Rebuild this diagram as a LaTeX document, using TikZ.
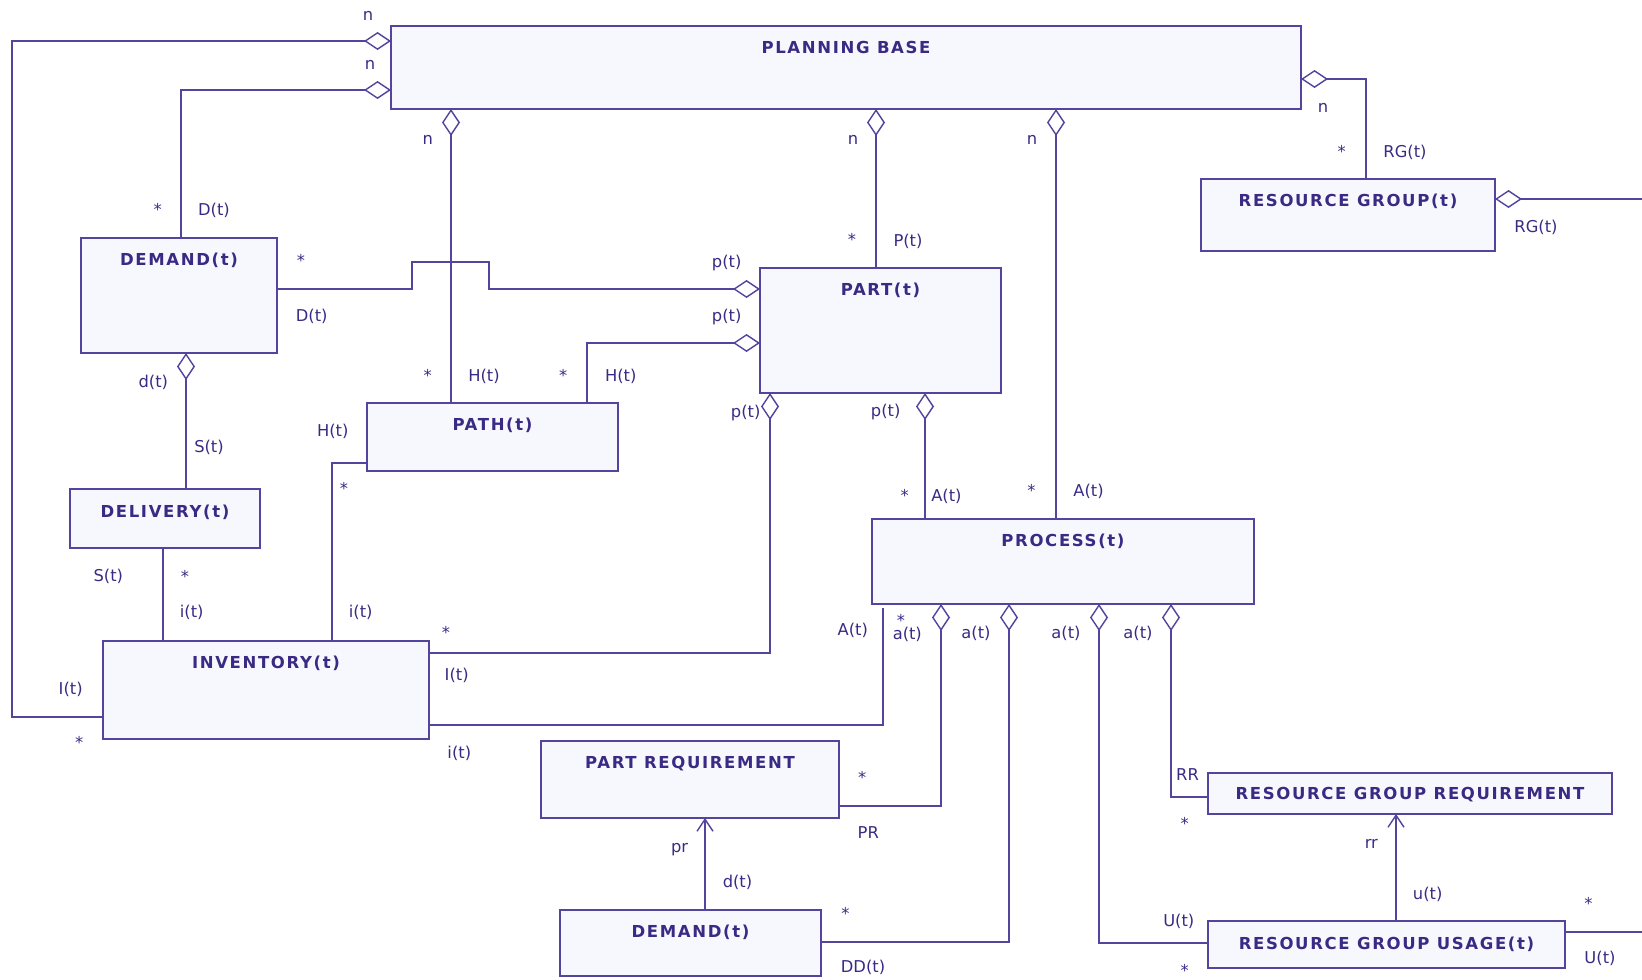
\documentclass[tikz,border=0pt]{standalone}
\usepackage{fontspec}
\setmainfont{DejaVu Sans}
\newfontfamily\titlefont[LetterSpace=10]{DejaVu Sans}
\usetikzlibrary{arrows.meta}
\definecolor{umlline}{HTML}{54449E}
\definecolor{umltext}{HTML}{3B2A84}
\definecolor{umlfill}{HTML}{F7F8FE}

\begin{document}
\begin{tikzpicture}[x=1pt,y=-1pt,
  cls/.style={draw=umlline, line width=2pt, fill=umlfill, anchor=north west,
              inner sep=0pt, outer sep=0pt},
  ttl/.style={font=\titlefont\bfseries\fontsize{16.5pt}{19pt}\selectfont,
              text=umltext, anchor=base, inner sep=0pt},
  lbl/.style={font=\fontsize{16.3pt}{19pt}\selectfont, text=umltext,
              inner sep=0pt, text height=12pt, text depth=3pt},
  mult/.style={lbl, yshift=-5pt},
  conn/.style={draw=umlline, line width=2pt},
  agg/.style={conn, {Diamond[open, length=27pt, width=18pt, line width=1.4pt]}-},
  nav/.style={conn, -{Straight Barb[length=12pt, width=16pt, line width=1.4pt]}},
]
\useasboundingbox (0,0) rectangle (1642,980);
\fill[white] (0,0) rectangle (1642,980);

% ---------- classes ----------
\node[cls, minimum width=910pt, minimum height=83pt]  (PB)   at (391,26) {};
\node[cls, minimum width=294pt, minimum height=72pt]  (RG)   at (1201,179) {};
\node[cls, minimum width=196pt, minimum height=115pt] (DEM)  at (81,238) {};
\node[cls, minimum width=241pt, minimum height=125pt] (PART) at (760,268) {};
\node[cls, minimum width=251pt, minimum height=68pt]  (PATH) at (367,403) {};
\node[cls, minimum width=190pt, minimum height=59pt]  (DEL)  at (70,489) {};
\node[cls, minimum width=326pt, minimum height=98pt]  (INV)  at (103,641) {};
\node[cls, minimum width=382pt, minimum height=85pt]  (PROC) at (872,519) {};
\node[cls, minimum width=298pt, minimum height=77pt]  (PR)   at (541,741) {};
\node[cls, minimum width=261pt, minimum height=66pt]  (DEMB) at (560,910) {};
\node[cls, minimum width=404pt, minimum height=41pt]  (RGR)  at (1208,773) {};
\node[cls, minimum width=357pt, minimum height=47pt]  (RGU)  at (1208,921) {};

\node[ttl] (PB-t)   at ([yshift=-27pt]PB.north)   {PLANNING BASE};
\node[ttl] (RG-t)   at ([yshift=-27pt]RG.north)   {RESOURCE GROUP(t)};
\node[ttl] (DEM-t)  at ([yshift=-27pt]DEM.north)  {DEMAND(t)};
\node[ttl] (PART-t) at ([yshift=-27pt]PART.north) {PART(t)};
\node[ttl] (PATH-t) at ([yshift=-27pt]PATH.north) {PATH(t)};
\node[ttl] (DEL-t)  at ([yshift=-28pt]DEL.north)  {DELIVERY(t)};
\node[ttl] (INV-t)  at ([yshift=-27pt]INV.north)  {INVENTORY(t)};
\node[ttl] (PROC-t) at ([yshift=-27pt]PROC.north) {PROCESS(t)};
\node[ttl] (PR-t)   at ([yshift=-27pt]PR.north)   {PART REQUIREMENT};
\node[ttl] (DEMB-t) at ([yshift=-27pt]DEMB.north) {DEMAND(t)};
\node[ttl] (RGR-t)  at ([yshift=-26pt]RGR.north)  {RESOURCE GROUP REQUIREMENT};
\node[ttl] (RGU-t)  at ([yshift=-28pt]RGU.north)  {RESOURCE GROUP USAGE(t)};

% ---------- free ends ----------
\coordinate (rgout)   at (1642,199);
\coordinate (rguout)  at (1642,932);
\coordinate (procgap) at ([yshift=-4pt]PROC.south);

% ---------- associations ----------
\draw[agg] (PB.west |- 0,41) -- (12,41) -- (12,717) -- (INV.west |- 0,717);
\draw[agg] (PB.west |- 0,90) -- (181,90) -- (DEM.north -| 181,0);
\draw[agg] (PB.south -| 451,0) -- (PATH.north -| 451,0);
\draw[agg] (PB.south -| 876,0) -- (PART.north -| 876,0);
\draw[agg] (PB.south -| 1056,0) -- (PROC.north -| 1056,0);
\draw[agg] (PB.east |- 0,79) -- (1366,79) -- (RG.north -| 1366,0);
\draw[agg] (RG.east |- 0,199) -- (rgout);
\draw[agg] (PART.west |- 0,289) -- (489,289) -- (489,262) -- (412,262)
           -- (412,289) -- (DEM.east |- 0,289);
\draw[agg] (PART.west |- 0,343) -- (587,343) -- (PATH.north -| 587,0);
\draw[agg] (PART.south -| 770,0) -- (770,653) -- (INV.east |- 0,653);
\draw[agg] (PART.south -| 925,0) -- (PROC.north -| 925,0);
\draw[agg] (DEM.south -| 186,0) -- (DEL.north -| 186,0);
\draw[conn] (DEL.south -| 163,0) -- (INV.north -| 163,0);
\draw[conn] (PATH.west |- 0,463) -- (332,463) -- (INV.north -| 332,0);
\draw[conn] (INV.east |- 0,725) -- (883,725) -- (procgap -| 883,0);
\draw[agg] (PROC.south -| 941,0) -- (941,806) -- (PR.east |- 0,806);
\draw[agg] (PROC.south -| 1009,0) -- (1009,942) -- (DEMB.east |- 0,942);
\draw[agg] (PROC.south -| 1099,0) -- (1099,943) -- (RGU.west |- 0,943);
\draw[agg] (PROC.south -| 1171,0) -- (1171,797) -- (RGR.west |- 0,797);
\draw[nav] (DEMB.north -| 705,0) -- (PR.south -| 705,0);
\draw[nav] (RGU.north -| 1396,0) -- (RGR.south -| 1396,0);
\draw[conn] (RGU.east |- 0,932) -- (rguout);

% ---------- role names and multiplicities ----------
\node[lbl]  at (368,15.7)    {n};
\node[lbl]  at (370,65)      {n};
\node[lbl]  at (427.7,140)   {n};
\node[lbl]  at (853,140)     {n};
\node[lbl]  at (1032,140)    {n};
\node[lbl]  at (1323,107.7)  {n};
\node[mult] at (157.7,205.7) {*};
\node[lbl]  at (214,210.7)   {D(t)};
\node[mult] at (301,256.7)   {*};
\node[lbl]  at (311.7,317.3) {D(t)};
\node[lbl]  at (726.7,263)   {p(t)};
\node[lbl]  at (726.7,317.3) {p(t)};
\node[mult] at (852,236)     {*};
\node[lbl]  at (908,241.7)   {P(t)};
\node[mult] at (1341.7,148.3){*};
\node[lbl]  at (1405,153.3)  {RG(t)};
\node[lbl]  at (1536,228.3)  {RG(t)};
\node[mult] at (427.7,371.7) {*};
\node[lbl]  at (484,376.7)   {H(t)};
\node[mult] at (563.3,371.7) {*};
\node[lbl]  at (620.7,376.7) {H(t)};
\node[lbl]  at (332.7,432)   {H(t)};
\node[mult] at (344,485)     {*};
\node[lbl]  at (360.7,613.3) {i(t)};
\node[lbl]  at (153.3,382.7) {d(t)};
\node[lbl]  at (209,447.7)   {S(t)};
\node[lbl]  at (108.3,577.3) {S(t)};
\node[mult] at (185,572.7)   {*};
\node[lbl]  at (191.7,613.3) {i(t)};
\node[lbl]  at (70.7,690)    {I(t)};
\node[mult] at (79.3,739.3)  {*};
\node[lbl]  at (745.7,412.8) {p(t)};
\node[lbl]  at (885.7,412.3) {p(t)};
\node[mult] at (904.6,492.3) {*};
\node[lbl]  at (946.4,497.3) {A(t)};
\node[mult] at (1031.4,487.3){*};
\node[lbl]  at (1088.6,492.3){A(t)};
\node[mult] at (446,629.3)   {*};
\node[lbl]  at (456.7,675.7) {I(t)};
\node[lbl]  at (459.3,754)   {i(t)};
\node[lbl]  at (852.8,630.8) {A(t)};
\node[mult] at (901,616.5)   {*};
\node[lbl]  at (907.3,635)   {a(t)};
\node[lbl]  at (976,634)     {a(t)};
\node[lbl]  at (1066,634)    {a(t)};
\node[lbl]  at (1138,634)    {a(t)};
\node[mult] at (862.3,773.7) {*};
\node[lbl]  at (868.3,834)   {PR};
\node[lbl]  at (679.6,848.3) {pr};
\node[lbl]  at (737.5,883.3) {d(t)};
\node[mult] at (845.5,910)   {*};
\node[lbl]  at (863,968.3)   {DD(t)};
\node[lbl]  at (1187.5,775.7){RR};
\node[mult] at (1184.7,820)  {*};
\node[lbl]  at (1371.3,844.3){rr};
\node[lbl]  at (1427.7,895)  {u(t)};
\node[lbl]  at (1178.8,922.3){U(t)};
\node[mult] at (1184.7,966.7){*};
\node[mult] at (1588.4,900)  {*};
\node[lbl]  at (1600,959.3)  {U(t)};
\end{tikzpicture}
\end{document}
